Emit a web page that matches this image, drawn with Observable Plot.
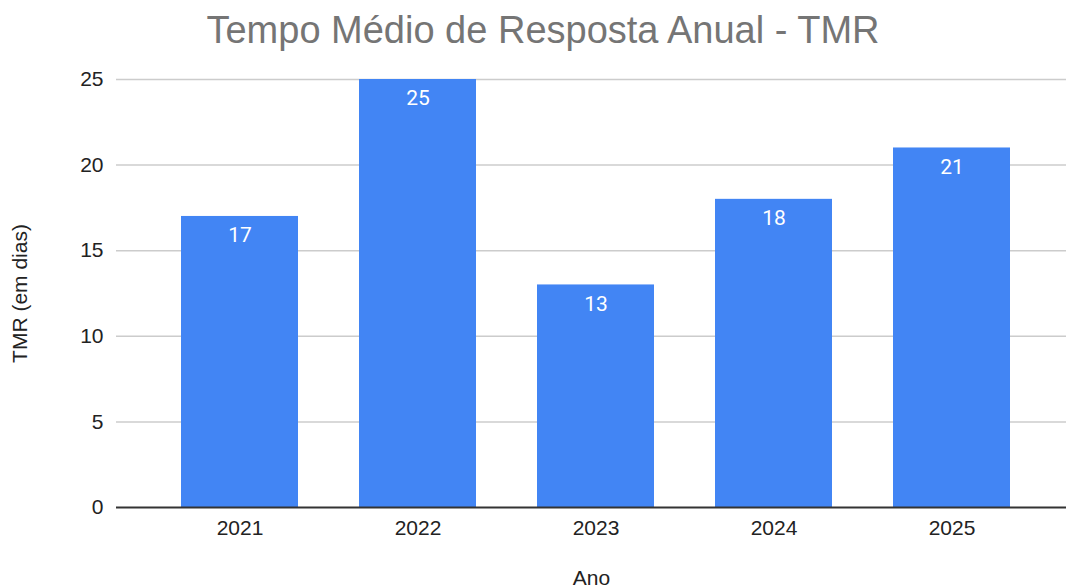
<!DOCTYPE html>
<html><head><meta charset="utf-8">
<script src="https://cdn.jsdelivr.net/npm/d3@7"></script>
<script src="https://cdn.jsdelivr.net/npm/@observablehq/plot@0.6"></script>
<style>
body{margin:0;background:#fff;width:1066px;height:588px;overflow:hidden;}
#title{height:60px;line-height:60px;text-align:center;padding-left:20px;font-family:"Liberation Sans",Arial,sans-serif;font-size:38px;color:#757575;white-space:nowrap;}
</style></head>
<body>
<div id="title">Tempo Médio de Resposta Anual - TMR</div>
<div id="chart"></div>
<script>
const anos = ["2021","2022","2023","2024","2025"];
const tmr = [17, 25, 13, 18, 21];
const yTicks = [0,5,10,15,20,25];
const data = anos.map((a,i)=>({ano:a, tmr:tmr[i]}));

const plot = Plot.plot({
  width:1066, height:528,
  marginTop:19, marginBottom:81, marginLeft:116, marginRight:0,
  style:{fontFamily:"'Liberation Sans', Arial, sans-serif", fontSize:"21px", color:"#222"},
  x:{domain:anos, paddingInner:0.345, paddingOuter:0.332, align:0.535, label:"Ano", labelAnchor:"center", labelOffset:77, labelArrow:false, tickSize:0, tickPadding:13},
  y:{domain:[0,25], ticks:yTicks, label:"TMR (em dias)", labelAnchor:"center", labelOffset:104, labelArrow:false, tickSize:0, tickPadding:13},
  marks:[
    Plot.ruleY(yTicks.filter(d=>d>0), {stroke:"#cccccc", strokeWidth:1.5}),
    Plot.barY(data, {x:"ano", y:"tmr", fill:"#4285f4"}),
    Plot.ruleY([0], {stroke:"#333333", strokeWidth:2}),
    Plot.text(data, {x:"ano", y:"tmr", text:d=>String(d.tmr), dy:19, fill:"white", fontSize:21, fontFamily:"Roboto, sans-serif"})
  ]
});
document.getElementById("chart").appendChild(plot);
</script>
</body></html>
